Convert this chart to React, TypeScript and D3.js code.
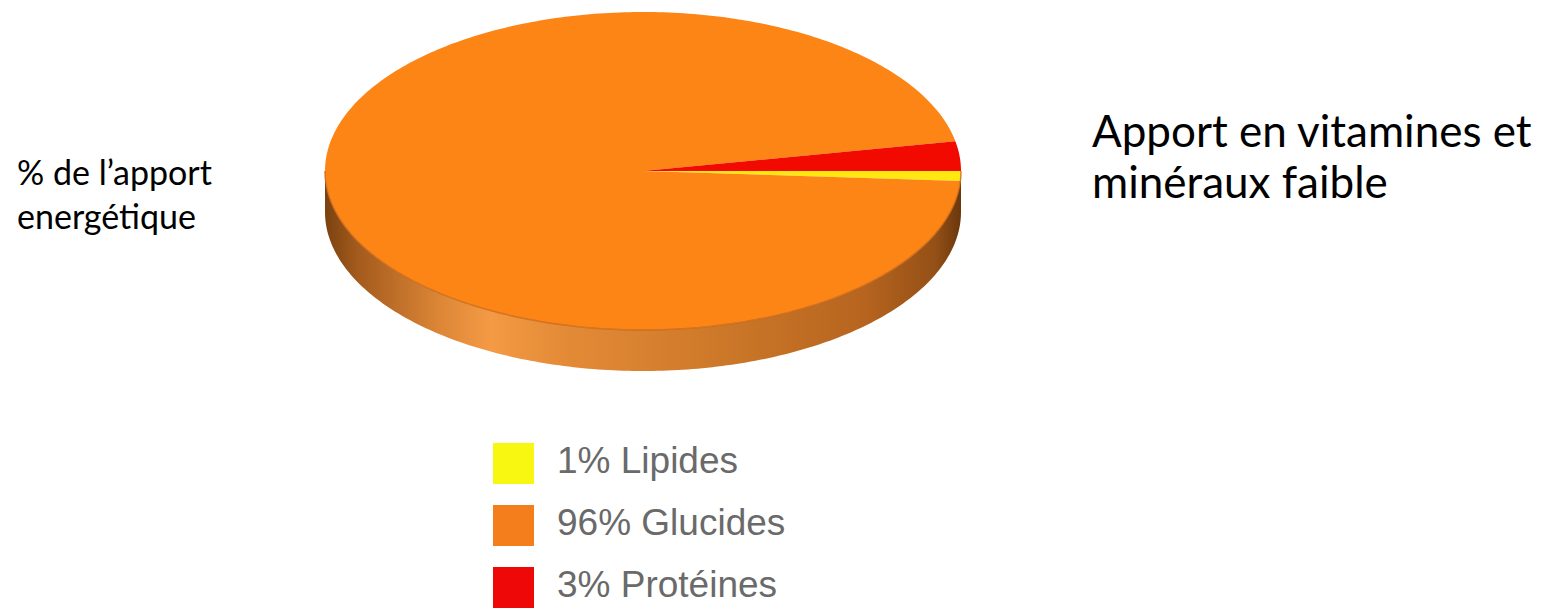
import React from "react";
import * as d3 from "d3";

const categories = ["Lipides", "Glucides", "Protéines"];
const values = [1, 96, 3];
const sliceColors = ["#ffe812", "#fc8516", "#f20a00"];
const legendColors = ["#f7f712", "#f57e1c", "#ee0808"];
const leftLines = ["% de l’apport", "energétique"];
const rightLines = ["Apport en vitamines et", "minéraux faible"];

const W = 1555;
const H = 608;
const cx = 643;
const cy = 171;
const rx = 318;
const ry = 159;
const depth = 41;

function ellipsePt(a: number, dy = 0): [number, number] {
  return [cx + rx * Math.sin(a), cy - ry * Math.cos(a) + dy];
}

function slicePath(a0: number, a1: number): string {
  const p = d3.path();
  p.moveTo(cx, cy);
  const n = Math.max(2, Math.ceil(((a1 - a0) / (2 * Math.PI)) * 400));
  for (let i = 0; i <= n; i++) {
    const a = a0 + ((a1 - a0) * i) / n;
    const [x, y] = ellipsePt(a);
    p.lineTo(x, y);
  }
  p.closePath();
  return p.toString();
}

function sidePath(): string {
  const p = d3.path();
  const n = 200;
  for (let i = 0; i <= n; i++) {
    const a = Math.PI / 2 + (Math.PI * i) / n;
    const [x, y] = ellipsePt(a);
    if (i === 0) p.moveTo(x, y);
    else p.lineTo(x, y);
  }
  for (let i = n; i >= 0; i--) {
    const a = Math.PI / 2 + (Math.PI * i) / n;
    const [x, y] = ellipsePt(a, depth);
    p.lineTo(x, y);
  }
  p.closePath();
  return p.toString();
}

function rimPath(): string {
  const p = d3.path();
  const n = 200;
  for (let i = 0; i <= n; i++) {
    const a = Math.PI / 2 + (Math.PI * i) / n;
    const [x, y] = ellipsePt(a);
    if (i === 0) p.moveTo(x, y);
    else p.lineTo(x, y);
  }
  return p.toString();
}

export default function App() {
  const pie = d3
    .pie<number>()
    .sort(null)
    .startAngle(Math.PI / 2)
    .endAngle(Math.PI / 2 + 2 * Math.PI);
  const arcs = pie(values);

  const legendY = d3.scaleBand<string>().domain(categories).range([443, 443 + 62 * 3]);

  return (
    <svg width={W} height={H} style={{ display: "block", position: "absolute", left: 0, top: 0 }}>
      <defs>
        <linearGradient id="sideGrad" gradientUnits="userSpaceOnUse" x1={cx - rx} x2={cx + rx} y1={0} y2={0}>
          <stop offset="0" stopColor="#7a420f" />
          <stop offset="0.05" stopColor="#a35a1c" />
          <stop offset="0.18" stopColor="#dc8636" />
          <stop offset="0.26" stopColor="#f49a45" />
          <stop offset="0.38" stopColor="#e38a36" />
          <stop offset="0.6" stopColor="#cf7a2a" />
          <stop offset="0.85" stopColor="#b6641f" />
          <stop offset="0.96" stopColor="#945016" />
          <stop offset="1" stopColor="#6a370c" />
        </linearGradient>
      </defs>
      <rect width={W} height={H} fill="#ffffff" />
      <path d={sidePath()} fill="url(#sideGrad)" />
      {arcs.map((a, i) => (
        <path key={categories[i]} d={slicePath(a.startAngle, a.endAngle)} fill={sliceColors[i]} />
      ))}
      <path d={rimPath()} fill="none" stroke="#c8691a" strokeWidth={1.5} opacity={0.8} />

      {categories.map((c, i) => (
        <g key={c}>
          <rect x={493} y={legendY(c)!} width={41} height={41} fill={legendColors[i]} />
          <text
            x={557}
            y={legendY(c)! + 30}
            fontFamily="'Liberation Sans', Arial, sans-serif"
            fontSize={37}
            fill="#6a6a6a"
          >
            {`${values[i]}% ${c}`}
          </text>
        </g>
      ))}

      {leftLines.map((t, i) => (
        <text key={t} x={17} y={185 + i * 44} fontFamily="Lato, 'Open Sans', sans-serif" fontSize={34} fill="#000">
          {t}
        </text>
      ))}
      {rightLines.map((t, i) => (
        <text key={t} x={1092} y={147 + i * 51} fontFamily="Lato, 'Open Sans', sans-serif" fontSize={44} fill="#000">
          {t}
        </text>
      ))}
    </svg>
  );
}
